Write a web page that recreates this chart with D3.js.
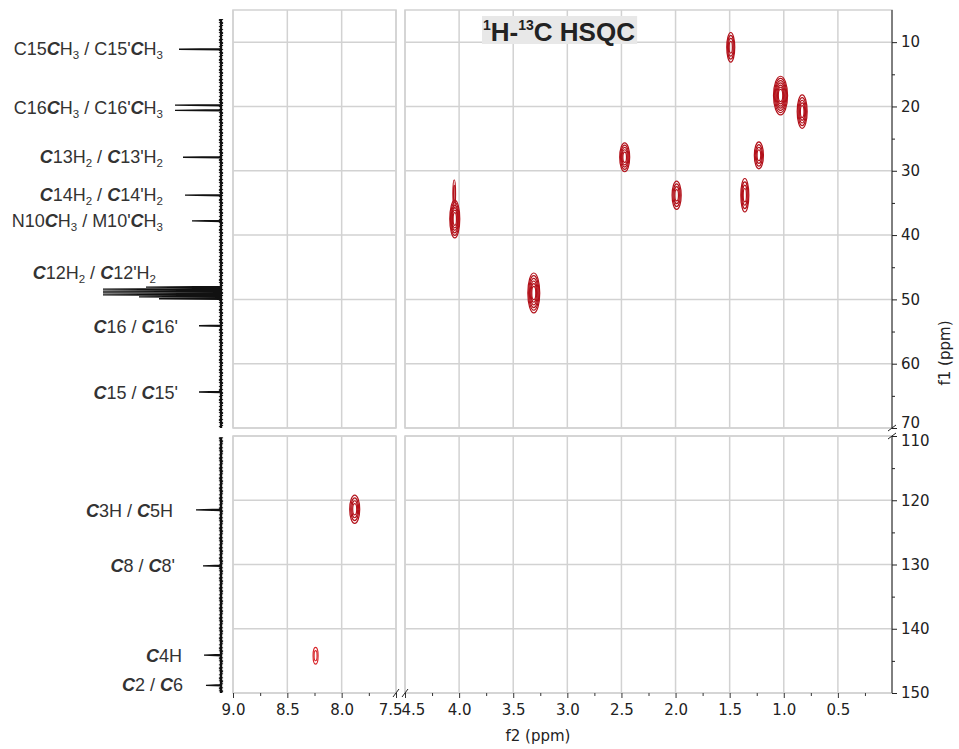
<!DOCTYPE html>
<html>
<head>
<meta charset="utf-8">
<script src="https://cdn.jsdelivr.net/npm/d3@7"></script>
<style>
  body { margin: 0; background: #fff; }
  svg text { fill: #222; }
</style>
</head>
<body>
<div id="chart"></div>
<script>
// ---- data ----
// f2 ticks (1H, ppm) for the two f2 windows
const f2TicksLeft = [9.0, 8.5, 8.0, 7.5];
const f2TicksRight = [4.5, 4.0, 3.5, 3.0, 2.5, 2.0, 1.5, 1.0, 0.5];
// f1 ticks (13C, ppm) for the two f1 windows
const f1TicksTop = [10, 20, 30, 40, 50, 60, 70];
const f1TicksBottom = [110, 120, 130, 140, 150];

// HSQC cross peaks: [f2 ppm, f1 ppm, half width f2, half width f1, contour levels]
const crossPeaksTop = [
  [1.49, 10.8, 0.037, 2.3, 4],
  [1.03, 18.3, 0.065, 3.0, 7],
  [0.83, 20.8, 0.046, 2.6, 5],
  [1.23, 27.6, 0.042, 2.1, 4],
  [1.36, 33.8, 0.037, 2.6, 4],
  [2.47, 27.9, 0.046, 2.25, 5],
  [1.99, 33.8, 0.042, 2.2, 4],
  [4.04, 37.5, 0.046, 2.95, 6],
  [4.045, 33.6, 0.012, 2.2, 2],
  [3.31, 49.0, 0.055, 3.1, 6]
];
const crossPeaksBottom = [
  [7.88, 121.4, 0.046, 2.2, 4],
  [8.24, 144.2, 0.023, 1.3, 2]
];

// 13C 1D projection peaks: [ppm, intensity]
const carbonTop = [
  [11.1, 42], [19.8, 46], [20.6, 46], [27.9, 38], [33.8, 36], [37.8, 29],
  [48.1, 75], [48.4, 118], [48.7, 118], [49.0, 118], [49.3, 118], [49.6, 82], [49.9, 62],
  [54.1, 22], [64.4, 22]
];
const carbonBottom = [
  [121.5, 25], [130.2, 18], [144.1, 17], [148.8, 15]
];

// assignment labels: {C} = bold italic, _n = subscript
const labelsTop = [
  { ppm: 11.1, text: "C15{C}H_3 / C15'{C}H_3" },
  { ppm: 20.2, text: "C16{C}H_3 / C16'{C}H_3" },
  { ppm: 27.9, text: "{C}13H_2 / {C}13'H_2" },
  { ppm: 33.8, text: "{C}14H_2 / {C}14'H_2" },
  { ppm: 37.8, text: "N10{C}H_3 / M10'{C}H_3" },
  { ppm: 45.9, text: "{C}12H_2 / {C}12'H_2" },
  { ppm: 54.3, text: "{C}16 / {C}16'" },
  { ppm: 64.6, text: "{C}15 / {C}15'" }
];
const labelsBottom = [
  { ppm: 121.6, text: "{C}3H / {C}5H" },
  { ppm: 130.3, text: "{C}8 / {C}8'" },
  { ppm: 144.3, text: "{C}4H" },
  { ppm: 148.8, text: "{C}2 / {C}6" }
];

// ---- layout ----
const width = 959, height = 749;
const labelRightTop = [163, 163, 163, 163, 163, 156, 178, 178];
const labelRightBottom = [173, 175, 182, 183];
const gridColor = "#d2d2d2";
const peakColor = "#b3121b";
const axisFont = "'DejaVu Sans', Verdana, sans-serif";
const labelFont = "'Liberation Sans', Arial, sans-serif";
const labelSize = 18;

const svg = d3.select("#chart").append("svg")
  .attr("width", width)
  .attr("height", height);

const xL = d3.scaleLinear().domain([9.0, 7.5]).range([233, 396]);
const xR = d3.scaleLinear().domain([4.5, 0.0]).range([405, 892]);
const yT = d3.scaleLinear().domain([5, 70]).range([10, 428]);
const yB = d3.scaleLinear().domain([110, 150]).range([436, 693]);
const xInt = d3.scaleLinear().domain([0, 120]).range([221, 101]);

// panels: grid + border
const panels = [
  { x: xL, y: yT, xt: f2TicksLeft, yt: f1TicksTop, id: "tl" },
  { x: xR, y: yT, xt: f2TicksRight, yt: f1TicksTop, id: "tr" },
  { x: xL, y: yB, xt: f2TicksLeft, yt: f1TicksBottom, id: "bl" },
  { x: xR, y: yB, xt: f2TicksRight, yt: f1TicksBottom, id: "br" }
];

const defs = svg.append("defs");
panels.forEach(p => {
  const [x0, x1] = p.x.range(), [y0, y1] = p.y.range();
  defs.append("clipPath").attr("id", "clip-" + p.id)
    .append("rect").attr("x", x0).attr("y", y0).attr("width", x1 - x0).attr("height", y1 - y0);

  const g = svg.append("g");
  g.selectAll(".vg").data(p.xt).enter().append("line")
    .attr("x1", d => p.x(d)).attr("x2", d => p.x(d))
    .attr("y1", y0).attr("y2", y1)
    .attr("stroke", gridColor).attr("stroke-width", 1.5);
  g.selectAll(".hg").data(p.yt).enter().append("line")
    .attr("x1", x0).attr("x2", x1)
    .attr("y1", d => p.y(d)).attr("y2", d => p.y(d))
    .attr("stroke", gridColor).attr("stroke-width", 1.5);
  g.append("rect")
    .attr("x", x0).attr("y", y0).attr("width", x1 - x0).attr("height", y1 - y0)
    .attr("fill", "none").attr("stroke", gridColor).attr("stroke-width", 1.5);
});

// cross peaks as nested contour rings
function drawPeaks(peaks, x, y, clipId, color) {
  const rings = [];
  peaks.forEach(p => {
    const n = p[4];
    for (let k = 0; k < n; k++) {
      const s = 1 - 0.8 * k / n;
      rings.push({ f2: p[0], f1: p[1], w: p[2] * s, h: p[3] * s });
    }
  });
  svg.append("g").attr("clip-path", "url(#" + clipId + ")")
    .selectAll("ellipse").data(rings).enter().append("ellipse")
    .attr("cx", d => x(d.f2))
    .attr("cy", d => y(d.f1))
    .attr("rx", d => Math.abs(x(d.f2 + d.w) - x(d.f2)))
    .attr("ry", d => Math.abs(y(d.f1 + d.h) - y(d.f1)))
    .attr("fill", "none")
    .attr("stroke", color)
    .attr("stroke-width", 1.2);
}
drawPeaks(crossPeaksTop, xR, yT, "clip-tr", peakColor);
drawPeaks(crossPeaksBottom.slice(0, 1), xL, yB, "clip-bl", peakColor);
drawPeaks(crossPeaksBottom.slice(1), xL, yB, "clip-bl", "#d8262b");

// 13C projection along the left edge
function drawProjection(peaks, y, from, to) {
  const hw = 0.1;
  const pts = [[from, 0]];
  peaks.slice().sort((a, b) => a[0] - b[0]).forEach(p => {
    pts.push([p[0] - hw, 0], [p[0], p[1]], [p[0] + hw, 0]);
  });
  pts.push([to, 0]);
  const g = svg.append("g");
  // noisy baseline look
  g.append("line")
    .attr("x1", xInt(0)).attr("x2", xInt(0))
    .attr("y1", y(from)).attr("y2", y(to))
    .attr("stroke", "#111").attr("stroke-width", 2.4);
  g.append("line")
    .attr("x1", xInt(0) + 1.6).attr("x2", xInt(0) + 1.6)
    .attr("y1", y(from)).attr("y2", y(to))
    .attr("stroke", "#111").attr("stroke-width", 1)
    .attr("stroke-dasharray", "1,2,2,1,1,3");
  g.append("line")
    .attr("x1", xInt(0) - 1.6).attr("x2", xInt(0) - 1.6)
    .attr("y1", y(from)).attr("y2", y(to))
    .attr("stroke", "#111").attr("stroke-width", 1)
    .attr("stroke-dasharray", "2,1,1,3,1,2");
  g.append("path")
    .datum(pts)
    .attr("d", d3.line().x(d => xInt(d[1])).y(d => y(d[0])))
    .attr("fill", "none")
    .attr("stroke", "#111")
    .attr("stroke-width", 1.3);
}
drawProjection(carbonTop, yT, 6.4, 70);
drawProjection(carbonBottom, yB, 110.2, 150);

// rich text: {X} bold italic, _n subscript
function richText(sel, s, size) {
  const re = /\{([^}]*)\}|_(\d)|([^{_]+)/g;
  let m, shifted = false;
  while ((m = re.exec(s))) {
    const t = sel.append("tspan");
    if (m[2] !== undefined) {
      t.attr("font-size", size * 0.64).attr("dy", shifted ? 0 : 4).text(m[2]);
      shifted = true;
      continue;
    }
    if (shifted) { t.attr("dy", -4); shifted = false; }
    if (m[1] !== undefined) t.attr("font-weight", "bold").attr("font-style", "italic").text(m[1]);
    else t.text(m[3]);
  }
}
function drawLabels(labels, rights, y) {
  labels.forEach((l, i) => {
    const t = svg.append("text")
      .attr("x", rights[i])
      .attr("y", y(l.ppm) + 6)
      .attr("text-anchor", "end")
      .attr("font-family", labelFont)
      .attr("font-size", labelSize)
      .style("fill", "#333");
    richText(t, l.text, labelSize);
  });
}
drawLabels(labelsTop, labelRightTop, yT);
drawLabels(labelsBottom, labelRightBottom, yB);

// ---- axes ----
const fmt = d3.format(".1f");
const bottom = svg.append("g").attr("transform", "translate(0,693)");
[[xL, f2TicksLeft, [8.75, 8.25, 7.75]], [xR, f2TicksRight, [4.25, 3.75, 3.25, 2.75, 2.25, 1.75, 1.25, 0.75, 0.25]]].forEach(([sc, tv, mn], i) => {
  const gMaj = bottom.append("g").attr("class", "f2maj" + i)
    .call(d3.axisBottom(sc).tickValues(tv).tickSize(5).tickPadding(6).tickFormat(fmt));
  bottom.append("g")
    .call(d3.axisBottom(sc).tickValues(mn).tickSize(3).tickFormat(""))
    .select(".domain").remove();
  gMaj.select(".domain").remove();
});
bottom.selectAll("line").attr("stroke", "#333");
bottom.selectAll("text")
  .attr("font-family", axisFont).attr("font-size", 15).style("fill", "#222");
// keep "7.5" and "4.5" side by side at the break
bottom.select(".f2maj0").selectAll(".tick").filter(d => d === 7.5)
  .select("text").attr("text-anchor", "end").attr("x", 6);
bottom.select(".f2maj1").selectAll(".tick").filter(d => d === 4.5)
  .select("text").attr("text-anchor", "start").attr("x", -4);

const right = svg.append("g").attr("transform", "translate(892,0)");
[[yT, f1TicksTop, [15, 25, 35, 45, 55, 65]], [yB, f1TicksBottom, [115, 125, 135, 145]]].forEach(([sc, tv, mn], i) => {
  const gMaj = right.append("g").attr("class", "f1maj" + i)
    .call(d3.axisRight(sc).tickValues(tv).tickSize(5).tickPadding(4).tickFormat(d3.format("d")));
  gMaj.select(".domain").remove();
  right.append("g")
    .call(d3.axisRight(sc).tickValues(mn).tickSize(3).tickFormat(""))
    .select(".domain").remove();
});
right.selectAll("line").attr("stroke", "#222");
right.selectAll("text")
  .attr("font-family", axisFont).attr("font-size", 15).style("fill", "#222");
right.select(".f1maj0").selectAll(".tick").filter(d => d === 70).select("text").attr("dy", "-0.05em");
right.select(".f1maj1").selectAll(".tick").filter(d => d === 110).select("text").attr("dy", "0.62em");

// axis spine with break
right.append("line").attr("x1", 0).attr("x2", 0).attr("y1", yT(5)).attr("y2", yT(70)).attr("stroke", "#222");
right.append("line").attr("x1", 0).attr("x2", 0).attr("y1", yB(110)).attr("y2", yB(150)).attr("stroke", "#222");
[yT(70), yB(110)].forEach(yy => {
  right.append("line").attr("x1", -4).attr("y1", yy + 3).attr("x2", 4).attr("y2", yy - 3)
    .attr("stroke", "#222").attr("stroke-width", 1);
});
[xL(7.5), xR(4.5)].forEach(xx => {
  svg.append("line").attr("x1", xx - 3).attr("y1", 697).attr("x2", xx + 3).attr("y2", 689)
    .attr("stroke", "#222").attr("stroke-width", 1);
});

// axis titles
svg.append("text")
  .attr("x", 538).attr("y", 741)
  .attr("text-anchor", "middle")
  .attr("font-family", axisFont).attr("font-size", 15)
  .text("f2 (ppm)");
svg.append("text")
  .attr("transform", "translate(950,353) rotate(-90)")
  .attr("text-anchor", "middle")
  .attr("font-family", axisFont).attr("font-size", 15)
  .text("f1 (ppm)");

// title with grey box
const titleG = svg.append("g");
const titleBox = titleG.append("rect").attr("fill", "#e8e8e8");
const title = titleG.append("text")
  .attr("x", 483).attr("y", 41)
  .attr("font-family", labelFont)
  .attr("font-weight", "bold")
  .attr("font-size", 26)
  .style("fill", "#222");
title.append("tspan").attr("font-size", 14).attr("dy", -11).text("1");
title.append("tspan").attr("dy", 11).text("H-");
title.append("tspan").attr("font-size", 14).attr("dy", -11).text("13");
title.append("tspan").attr("dy", 11).text("C HSQC");
const bb = title.node().getBBox();
titleBox.attr("x", bb.x - 1).attr("y", 16).attr("width", bb.width + 3).attr("height", 28);
</script>
</body>
</html>
